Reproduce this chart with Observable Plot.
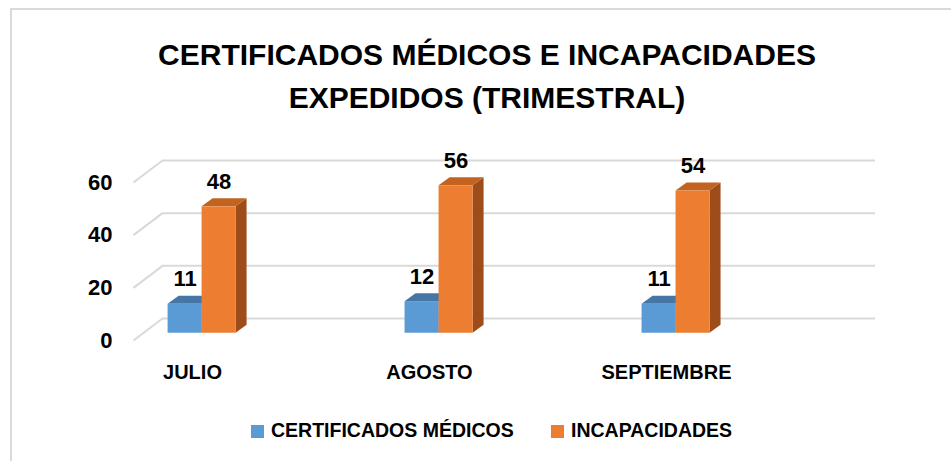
<!DOCTYPE html>
<html>
<head>
<meta charset="utf-8">
<script src="https://cdn.jsdelivr.net/npm/d3@7"></script>
<script src="https://cdn.jsdelivr.net/npm/@observablehq/plot@0.6"></script>
<style>
  html, body { margin: 0; padding: 0; background: #fff; }
  #root { position: relative; width: 951px; height: 461px; overflow: hidden; background: #fff;
          font-family: "Liberation Sans", Arial, sans-serif; font-weight: bold; color: #000; }
  #frame { position: absolute; left: 10px; top: 8px; width: 1200px; height: 800px; border: 2px solid #d9d9d9; box-sizing: border-box; }
  #title { position: absolute; left: 0; top: 33px; width: 974px; text-align: center; font-size: 30px; line-height: 43px; }
  #chart { position: absolute; left: 0; top: 130px; }
  .leg { position: absolute; top: 418px; font-size: 19.5px; line-height: 24px; white-space: nowrap; }
  .sw { display: inline-block; width: 13px; height: 13px; margin-right: 7px; vertical-align: -1px; }
</style>
</head>
<body>
<div id="root">
  <div id="frame"></div>
  <div id="title"></div>
  <div id="chart"></div>
  <div id="legend"></div>
</div>
<script>
// ---- data ----
const months = ["JULIO", "AGOSTO", "SEPTIEMBRE"];
const certificados = [11, 12, 11];
const incapacidades = [48, 56, 54];
const seriesNames = ["CERTIFICADOS MÉDICOS", "INCAPACIDADES"];
const yTicks = [0, 20, 40, 60];
const titleLines = ["CERTIFICADOS MÉDICOS E INCAPACIDADES", "EXPEDIDOS (TRIMESTRAL)"];

// ---- styling ----
const frontColors = ["#5b9bd5", "#ed7d31"];
const topColors = ["#4676a6", "#c2631f"];
const sideColors = ["#3b6590", "#9d4c1a"];
const gridColor = "#d9d9d9";

// 3D geometry (in scale units)
const xDomain = [-0.249, 2.882];
const depthX = 0.1224, depthY = 8.35;     // full wall depth
const barFrac = 0.33;                        // bars sit at this fraction of depth
const barW = 0.1435;
const barDX = 0.0464, barDY = 3.04;          // bar's own depth

document.getElementById("title").innerHTML = titleLines.map(t => `<div>${t}</div>`).join("");

const series = [certificados, incapacidades];
const bars = [];
months.forEach((m, i) => {
  series.forEach((vals, j) => {
    const sx = i + barFrac * depthX;
    const x1 = sx + (j - 1) * barW;
    const base = barFrac * depthY;
    bars.push({key: `${i}-${j}`, j, v: vals[i], x1, x2: x1 + barW, base, top: base + vals[i]});
  });
});

const sidePts = bars.flatMap(b => [
  {key: b.key, j: b.j, x: b.x2, y1: b.base, y2: b.top},
  {key: b.key, j: b.j, x: b.x2 + barDX, y1: b.base + barDY, y2: b.top + barDY}
]);
const topPts = bars.flatMap(b => [
  {key: b.key, j: b.j, y: b.top, x1: b.x1, x2: b.x2},
  {key: b.key, j: b.j, y: b.top + barDY, x1: b.x1 + barDX, x2: b.x2 + barDX}
]);

const marks = [
  // left side wall diagonals
  Plot.link(yTicks, {x1: xDomain[0], y1: d => d, x2: xDomain[0] + depthX, y2: d => d + depthY, stroke: gridColor, strokeWidth: 2}),
  // back wall gridlines
  Plot.ruleY(yTicks, {y: d => d + depthY, x1: xDomain[0] + depthX, x2: xDomain[1], stroke: gridColor, strokeWidth: 2})
];
[0, 1].forEach(j => {
  marks.push(Plot.areaY(sidePts.filter(d => d.j === j), {x: "x", y1: "y1", y2: "y2", z: "key", fill: sideColors[j]}));
});
[0, 1].forEach(j => {
  marks.push(Plot.areaX(topPts.filter(d => d.j === j), {y: "y", x1: "x1", x2: "x2", z: "key", fill: topColors[j]}));
});
[0, 1].forEach(j => {
  marks.push(Plot.rectY(bars.filter(d => d.j === j), {x1: "x1", x2: "x2", y1: "base", y2: "top", fill: frontColors[j]}));
});
marks.push(
  Plot.text(bars, {x: d => (d.x1 + d.x2) / 2, y: "top", text: d => String(d.v), dy: -25, fontSize: 22, fontWeight: "bold", fill: "#000"}),
  Plot.axisY({ticks: yTicks, tickSize: 0, tickPadding: 21, fontSize: 22, fontWeight: "bold", label: null, color: "#000"}),
  Plot.axisX({ticks: [0, 1, 2], tickFormat: i => months[i], tickSize: 0, tickPadding: 24, fontSize: 20, fontWeight: "bold", label: null, color: "#000"})
);

const chart = Plot.plot({
  width: 951,
  height: 270,
  marginLeft: 133,
  marginRight: 76,
  marginTop: 30,
  marginBottom: 60,
  style: {fontFamily: '"Liberation Sans", Arial, sans-serif', color: "#000", background: "transparent", overflow: "visible"},
  x: {type: "linear", domain: xDomain},
  y: {domain: [0, 60 + depthY]},
  marks
});
document.getElementById("chart").appendChild(chart);

// legend
const legendLeft = [251, 551];
document.getElementById("legend").innerHTML = seriesNames.map((n, j) =>
  `<div class="leg" style="left:${legendLeft[j]}px"><span class="sw" style="background:${frontColors[j]}"></span>${n}</div>`
).join("");
</script>
</body>
</html>
